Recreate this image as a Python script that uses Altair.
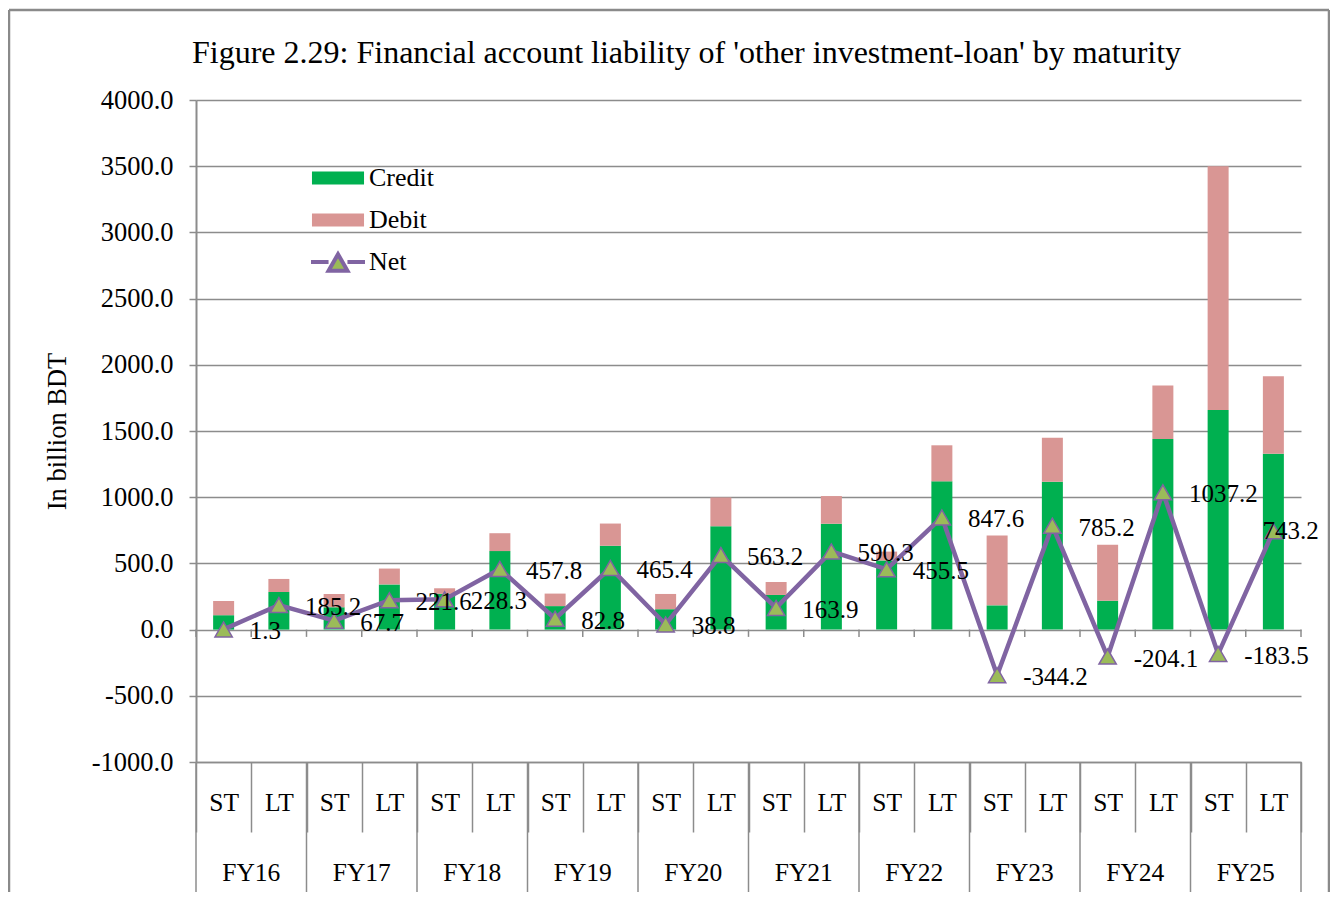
import altair as alt
import pandas as pd

fys = ["FY16", "FY17", "FY18", "FY19", "FY20", "FY21", "FY22", "FY23", "FY24", "FY25"]
mats = ["ST", "LT"]
credit = [108.7, 283.9, 168.4, 341.3, 270.2, 592.9, 177.4, 633.2, 154.0, 780.6,
          261.7, 799.5, 522.3, 1119.8, 183.0, 1117.2, 218.1, 1440.2, 1658.0, 1328.2]
debit = [107.4, 98.7, 100.7, 119.7, 41.9, 135.1, 94.6, 167.8, 115.2, 217.4,
         97.8, 209.2, 66.8, 272.2, 527.2, 332.0, 422.2, 403.0, 1841.5, 585.0]
net = [1.3, 185.2, 67.7, 221.6, 228.3, 457.8, 82.8, 465.4, 38.8, 563.2,
       163.9, 590.3, 455.5, 847.6, -344.2, 785.2, -204.1, 1037.2, -183.5, 743.2]
series = ["Credit", "Debit", "Net"]
y_ticks = [-1000, -500, 0, 500, 1000, 1500, 2000, 2500, 3000, 3500, 4000]
title_text = "Figure 2.29: Financial account liability of 'other investment-loan' by maturity"

cats = [f"{fy} {m}" for fy in fys for m in mats]

bar_rows = []
for i, c in enumerate(cats):
    bar_rows.append({"cat": c, "series": "Credit", "value": credit[i], "order": 0})
    bar_rows.append({"cat": c, "series": "Debit", "value": debit[i], "order": 1})
bars_df = pd.DataFrame(bar_rows)
net_df = pd.DataFrame({"cat": cats, "net": net, "series": ["Net"] * len(cats)})
st_df = pd.DataFrame({"cat": [f"{fy} ST" for fy in fys], "fy": fys, "base": [-1000] * len(fys)})
tick_df = pd.DataFrame({"cat": cats, "top": [0] * len(cats), "bot": [-55] * len(cats)})
last_df = pd.DataFrame({"cat": [cats[-1]], "top": [0], "bot": [-55], "base": [-1000]})

FONT = "Liberation Serif"
GREEN = "#00B050"
PINK = "#D99694"
PURPLE = "#8064A2"
OLIVE = "#9BBB59"
GRID = "#8C8C8C"

xscale = alt.Scale(domain=cats, paddingInner=0, paddingOuter=0)
yscale = alt.Scale(domain=[-1000, 4000], nice=False, zero=False)


def X(**kw):
    return alt.X("cat:N", sort=cats, scale=xscale, **kw)


def Y(field):
    return alt.Y(field, scale=yscale)


legend = alt.Legend(
    title=None, orient="none", legendX=113, legendY=49, direction="vertical",
    symbolType={"expr": "datum.value === 'Net' ? 'M-1,0H-0.35M0.35,0H1M-0.35,0.32L0,-0.29L0.35,0.32Z' : 'M-0.89,-0.17H0.89V0.17H-0.89Z'"},
    symbolSize=2916, symbolStrokeWidth=4, symbolOpacity=1,
    labelFont=FONT, labelFontSize=26, labelColor="black", labelOffset=2,
    rowPadding=-9, padding=0,
)

x_axis = alt.Axis(
    title=None, labelExpr="split(datum.label, ' ')[1]", labelAngle=0,
    labelFont=FONT, labelFontSize=25.5, labelColor="black", labelBaseline="middle",
    labelPadding=-30, tickBand="extent", tickSize=70, tickColor=GRID, tickWidth=1.5,
    domainColor=GRID, domainWidth=1.5, grid=False,
)

y_axis = alt.Axis(
    values=y_ticks, labelExpr="replace(format(datum.value, '.1f'), '\u2212', '-')",
    grid=True, gridColor=GRID, gridWidth=1.5,
    domainColor=GRID, domainWidth=2, tickColor=GRID, tickWidth=1.5, tickSize=7,
    labelFont=FONT, labelFontSize=26.5, labelColor="black", labelPadding=16,
    title="In billion BDT", titleFont=FONT, titleFontSize=26.5, titleFontWeight="normal",
    titleColor="black", titlePadding=20,
)

bars = alt.Chart(bars_df).mark_bar(width=alt.RelativeBandSize(0.38)).encode(
    x=alt.X("cat:N", sort=cats, scale=xscale, axis=x_axis),
    y=alt.Y("value:Q", stack="zero", scale=yscale, axis=y_axis),
    fill=alt.Fill("series:N", scale=alt.Scale(domain=series, range=[GREEN, PINK, OLIVE]), legend=legend),
    order=alt.Order("order:Q"),
)

line = alt.Chart(net_df).mark_line(strokeWidth=4.5).encode(
    x=X(),
    y=Y("net:Q"),
    stroke=alt.Stroke("series:N", scale=alt.Scale(domain=series, range=[GREEN, PINK, PURPLE]), legend=legend),
)

points = alt.Chart(net_df).mark_point(
    shape="triangle-up", filled=True, fill=OLIVE, stroke=PURPLE, strokeWidth=1.5, size=300, opacity=1
).encode(
    x=X(),
    y=Y("net:Q"),
)

label_base = alt.Chart(net_df).transform_calculate(
    lbl="replace(format(datum.net, '.1f'), '\u2212', '-')"
)
labels = label_base.transform_filter(f"datum.cat != '{cats[-1]}'").mark_text(
    align="left", baseline="middle", dx=26, dy=2, font=FONT, fontSize=25, color="black"
).encode(
    x=X(),
    y=Y("net:Q"),
    text="lbl:N",
)
labels_last = label_base.transform_filter(f"datum.cat == '{cats[-1]}'").mark_text(
    align="left", baseline="middle", dx=-11, dy=0, font=FONT, fontSize=25, color="black"
).encode(
    x=X(),
    y=Y("net:Q"),
    text="lbl:N",
)

zero_ticks = alt.Chart(tick_df).mark_rule(color=GRID, strokeWidth=1.5).encode(
    x=X(bandPosition=0),
    y=Y("top:Q"),
    y2="bot:Q",
)
zero_tick_end = alt.Chart(last_df).mark_rule(color=GRID, strokeWidth=1.5).encode(
    x=X(bandPosition=1),
    y=Y("top:Q"),
    y2="bot:Q",
)

group_sep = alt.Chart(st_df).mark_rule(color=GRID, strokeWidth=1.5).encode(
    x=X(bandPosition=0),
    y=Y("base:Q"),
    y2=alt.value(800),
)
group_sep_end = alt.Chart(last_df).mark_rule(color=GRID, strokeWidth=1.5).encode(
    x=X(bandPosition=1),
    y=Y("base:Q"),
    y2=alt.value(800),
)

fy_labels = alt.Chart(st_df).mark_text(
    align="center", baseline="middle", dy=111, font=FONT, fontSize=25.5, color="black"
).encode(
    x=X(bandPosition=1),
    y=Y("base:Q"),
    text="fy:N",
)

one = pd.DataFrame({"t": [title_text]})
title_mark = alt.Chart(one).mark_text(
    align="left", baseline="alphabetic", font=FONT, fontSize=32, color="black"
).encode(x=alt.value(-4), y=alt.value(-37), text="t:N")
border_top = alt.Chart(one).mark_rule(color="#8A8A8A", strokeWidth=2.5).encode(
    x=alt.value(-187), x2=alt.value(1133), y=alt.value(-90))
border_left = alt.Chart(one).mark_rule(color="#8A8A8A", strokeWidth=2.5).encode(
    x=alt.value(-187), y=alt.value(-90), y2=alt.value(800))
border_right = alt.Chart(one).mark_rule(color="#8A8A8A", strokeWidth=2.5).encode(
    x=alt.value(1133), y=alt.value(-90), y2=alt.value(800))

chart = alt.layer(
    bars, zero_ticks, zero_tick_end, group_sep, group_sep_end, fy_labels,
    line, points, labels, labels_last,
    title_mark, border_top, border_left, border_right,
).properties(
    width=1105, height=662,
    background="white",
    autosize=alt.AutoSizeParams(type="none"),
    padding={"left": 188, "top": 92, "right": 29, "bottom": 130},
).configure_view(stroke=None)

chart.save("out.html", embed_options={"renderer": "svg", "actions": False})
